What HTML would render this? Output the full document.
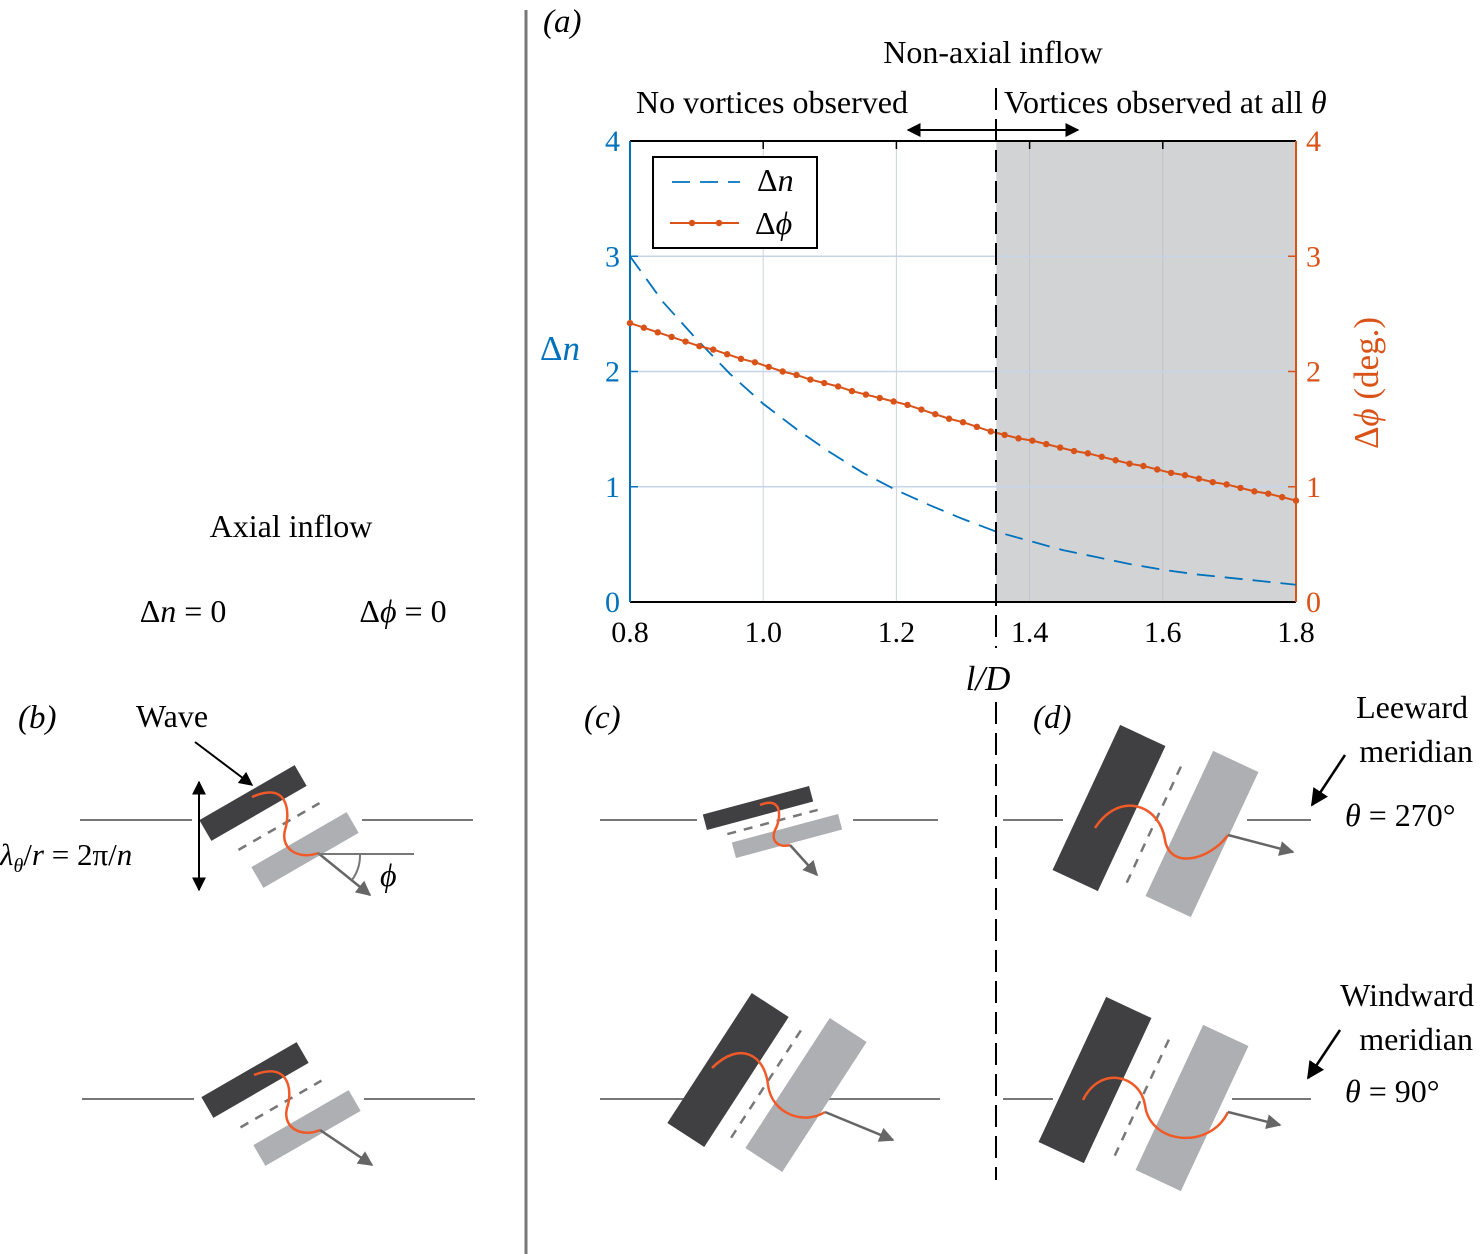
<!DOCTYPE html>
<html><head><meta charset="utf-8"><style>
body{margin:0;background:#fff;}
svg{display:block;font-family:"Liberation Serif",serif;}
</style></head><body>
<svg id="fig" width="1483" height="1254" viewBox="0 0 1483 1254" xmlns="http://www.w3.org/2000/svg">
<defs>
<marker id="ah" viewBox="0 0 10 10" refX="9" refY="5" markerWidth="7" markerHeight="7" orient="auto-start-reverse"><path d="M0,0 L10,5 L0,10 z" fill="#000"/></marker>
<marker id="ahg" viewBox="0 0 10 10" refX="9" refY="5" markerWidth="6" markerHeight="6" orient="auto"><path d="M0,0 L10,5 L0,10 z" fill="#666"/></marker>
</defs>
<line x1="526" y1="10" x2="526" y2="1254" stroke="#777" stroke-width="3"/>
<g id="chart"></g>
<g id="diagrams"></g>
<line x1="996" y1="88" x2="996" y2="648" stroke="#000" stroke-width="2" stroke-dasharray="22,9"/>
<line x1="996" y1="702" x2="996" y2="1180" stroke="#000" stroke-width="2" stroke-dasharray="22,9"/>
<text x="543" y="32" font-size="33" font-style="italic">(a)</text>
<text x="993" y="63" font-size="32" text-anchor="middle">Non-axial inflow</text>
<text x="772" y="113" font-size="32" text-anchor="middle">No vortices observed</text>
<text x="1004" y="113" font-size="32">Vortices observed at all <tspan font-style="italic">θ</tspan></text>
<line x1="908" y1="130" x2="1078" y2="130" stroke="#000" stroke-width="2" marker-start="url(#ah)" marker-end="url(#ah)"/>
<text x="291" y="537" font-size="32" text-anchor="middle">Axial inflow</text>
<text x="183" y="622" font-size="32" text-anchor="middle">Δ<tspan font-style="italic">n</tspan> = 0</text>
<text x="403" y="622" font-size="32" text-anchor="middle">Δ<tspan font-style="italic">ϕ</tspan> = 0</text>
<text x="18" y="728" font-size="33" font-style="italic">(b)</text>
<text x="584" y="728" font-size="33" font-style="italic">(c)</text>
<text x="1033" y="728" font-size="33" font-style="italic">(d)</text>
<text x="172" y="727" font-size="32" text-anchor="middle">Wave</text>
<line x1="195" y1="742" x2="252" y2="785" stroke="#000" stroke-width="2" marker-end="url(#ah)"/>
<line x1="199" y1="782" x2="199" y2="890" stroke="#000" stroke-width="2" marker-start="url(#ah)" marker-end="url(#ah)"/>
<text x="0" y="865" font-size="31"><tspan font-style="italic">λ</tspan><tspan font-style="italic" font-size="20" dy="7">θ</tspan><tspan dy="-7">/</tspan><tspan font-style="italic">r</tspan> = 2π/<tspan font-style="italic">n</tspan></text>
<line x1="318" y1="854" x2="414" y2="854" stroke="#777" stroke-width="2"/>
<path d="M360,854 A42,42 0 0 1 352,880" fill="none" stroke="#777" stroke-width="2"/>
<text x="380" y="886" font-size="32" font-style="italic">ϕ</text>
<text x="1468" y="718" font-size="32" text-anchor="end">Leeward</text>
<text x="1473" y="762" font-size="32" text-anchor="end">meridian</text>
<line x1="1345" y1="755" x2="1312" y2="805" stroke="#000" stroke-width="2.5" marker-end="url(#ah)"/>
<text x="1345" y="826" font-size="32"><tspan font-style="italic">θ</tspan> = 270°</text>
<text x="1474" y="1006" font-size="32" text-anchor="end">Windward</text>
<text x="1473" y="1050" font-size="32" text-anchor="end">meridian</text>
<line x1="1340" y1="1030" x2="1308" y2="1078" stroke="#000" stroke-width="2.5" marker-end="url(#ah)"/>
<text x="1345" y="1102" font-size="32"><tspan font-style="italic">θ</tspan> = 90°</text>
</svg>
<script>
const ns="http://www.w3.org/2000/svg";
const dnX=[0.8,0.85,0.9,0.95,1.0,1.05,1.1,1.15,1.2,1.25,1.3,1.35,1.4,1.45,1.5,1.55,1.6,1.65,1.7,1.75,1.8];
const dnVals=[3.0,2.6,2.28,1.98,1.72,1.5,1.3,1.12,0.97,0.84,0.72,0.61,0.53,0.45,0.39,0.33,0.28,0.24,0.21,0.18,0.15];
const dphiVals=[2.42,2.38,2.34,2.30,2.26,2.22,2.19,2.15,2.11,2.08,2.04,2.00,1.97,1.93,1.90,1.87,1.83,1.80,1.77,1.74,1.71,1.67,1.63,1.59,1.56,1.52,1.48,1.45,1.42,1.40,1.37,1.34,1.31,1.29,1.26,1.23,1.20,1.18,1.15,1.12,1.10,1.07,1.04,1.02,0.99,0.96,0.94,0.91,0.88];
const xTicks=[0.8,1.0,1.2,1.4,1.6,1.8];
const xTickLabels=["0.8","1.0","1.2","1.4","1.6","1.8"];
const yTicks=[0,1,2,3,4];
const shadeStart=1.35;
const X0=630,X1=1296,Y0=602,Y1=141;
const xs=v=>X0+(v-0.8)/(1.0)*(X1-X0);
const ys=v=>Y0-v/4*(Y0-Y1);
const g=document.getElementById('chart');
function el(t,a,p){const e=document.createElementNS(ns,t);for(const k in a)e.setAttribute(k,a[k]);(p||g).appendChild(e);return e;}
let r=el('rect',{x:xs(shadeStart),y:Y1,width:X1-xs(shadeStart),height:Y0-Y1,fill:'#d2d3d5'});


xTicks.forEach((t,i)=>{
 const l=el('line',{x1:xs(t),y1:Y1,x2:xs(t),y2:Y0,stroke:'#b8bfcc','stroke-width':1,opacity:0.7});
 
 
 const tk=el('line',{x1:xs(t),y1:Y1,x2:xs(t),y2:Y1+8,stroke:'#000','stroke-width':1.5});
 
 
 const tx=el('text',{x:xs(t),y:642,'font-size':30,'text-anchor':'middle'});
 tx.textContent=xTickLabels[i];
 
 
});
yTicks.forEach(t=>{
 if(t>0&&t<4){const l=el('line',{x1:X0,y1:ys(t),x2:X1,y2:ys(t),stroke:'#c6d4ea','stroke-width':1.5});
 
 }
 const a=el('text',{x:X0-10,y:ys(t)+10,'font-size':30,'text-anchor':'end',fill:'#0072bd'});a.textContent=t;
 
 
 const b=el('text',{x:X1+10,y:ys(t)+10,'font-size':30,fill:'#d95319'});b.textContent=t;
 
 
 el('line',{x1:X0,y1:ys(t),x2:X0+8,y2:ys(t),stroke:'#0072bd','stroke-width':1.5});
 el('line',{x1:X1,y1:ys(t),x2:X1-8,y2:ys(t),stroke:'#d95319','stroke-width':1.5});
});
let a1=el('line',{x1:X0,y1:Y1,x2:X1,y2:Y1,stroke:'#000','stroke-width':2});

let a2=el('line',{x1:X0,y1:Y0,x2:X1,y2:Y0,stroke:'#000','stroke-width':2});

let a3=el('line',{x1:X0,y1:Y1,x2:X0,y2:Y0,stroke:'#0072bd','stroke-width':2});

let a4=el('line',{x1:X1,y1:Y1,x2:X1,y2:Y0,stroke:'#d95319','stroke-width':2});

let dn=el('polyline',{points:dnX.map((x,i)=>xs(x)+','+ys(dnVals[i])).join(' '),fill:'none',stroke:'#0072bd','stroke-width':1.8,'stroke-dasharray':'18,10'});

const dphiX=dphiVals.map((v,i)=>0.8+i*(1.0/(dphiVals.length-1)));
let dp=el('polyline',{points:dphiX.map((x,i)=>xs(x)+','+ys(dphiVals[i])).join(' '),fill:'none',stroke:'#d95319','stroke-width':2});

dphiX.forEach((x,i)=>{const c=el('circle',{cx:xs(x),cy:ys(dphiVals[i]),r:3.2,fill:'#d95319'});
 
 });
let lg=el('rect',{x:653,y:157,width:164,height:91,fill:'#fff',stroke:'#000','stroke-width':2});

el('line',{x1:672,y1:182,x2:740,y2:182,stroke:'#0072bd','stroke-width':1.8,'stroke-dasharray':'18,10'});
el('line',{x1:670,y1:223,x2:739,y2:223,stroke:'#d95319','stroke-width':2});
el('circle',{cx:692,cy:223,r:3.2,fill:'#d95319'});el('circle',{cx:719,cy:223,r:3.2,fill:'#d95319'});
let t1=el('text',{x:757,y:191,'font-size':32});t1.innerHTML='Δ<tspan font-style="italic">n</tspan>';

let t2=el('text',{x:755,y:234,'font-size':32});t2.innerHTML='Δ<tspan font-style="italic">ϕ</tspan>';

let yl=el('text',{x:540,y:360,'font-size':35,fill:'#0072bd'});yl.innerHTML='Δ<tspan font-style="italic">n</tspan>';

let yr=el('text',{x:0,y:0,'font-size':35,fill:'#d95319','text-anchor':'middle',transform:'translate(1378,383) rotate(-90)'});yr.innerHTML='Δ<tspan font-style="italic">ϕ</tspan> (deg.)';

let xl=el('text',{x:988,y:690,'font-size':35,'font-style':'italic','text-anchor':'middle'});xl.textContent='l/D';


const dg=document.getElementById('diagrams');
function diagram(name,o){
 const gg=el('g',{},dg);
 
 
 const add=(t,a)=>el(t,a,gg);
 add('line',{x1:o.l[0],y1:o.ly,x2:o.l[1],y2:o.ly,stroke:'#777','stroke-width':2});
 add('line',{x1:o.l[2],y1:o.ly,x2:o.l[3],y2:o.ly,stroke:'#777','stroke-width':2});
 const mk=(c,f)=>add('rect',{x:c[0]-o.L/2,y:c[1]-o.T/2,width:o.L,height:o.T,fill:f,transform:`rotate(${o.a} ${c[0]} ${c[1]})`});
 mk(o.d,'#404042');mk(o.g,'#aeafb2');
 const m=[(o.d[0]+o.g[0])/2,(o.d[1]+o.g[1])/2];
 add('line',{x1:m[0]-o.L/2*0.85,y1:m[1],x2:m[0]+o.L/2*0.85,y2:m[1],stroke:'#777','stroke-width':2.5,'stroke-dasharray':'9,8',transform:`rotate(${o.a} ${m[0]} ${m[1]})`});
 add('path',{d:o.s,fill:'none',stroke:'#f05a28','stroke-width':2.5});
 add('line',{x1:o.ar[0],y1:o.ar[1],x2:o.ar[2],y2:o.ar[3],stroke:'#666','stroke-width':2.5,'marker-end':'url(#ahg)'});
}
diagram('diagram-b-top',{l:[80,192,362,473],ly:820,d:[253,803],g:[305,850],a:-30,L:110,T:24,s:'M252,797 C290,780 290,815 285,830 C280,850 300,860 318,853',ar:[318,853,370,895]});
diagram('diagram-b-bottom',{l:[82,194,364,475],ly:1099,d:[255,1080],g:[307,1128],a:-30,L:110,T:24,s:'M254,1075 C292,1060 292,1095 287,1108 C282,1128 302,1138 320,1130',ar:[320,1130,372,1165]});
diagram('diagram-c-top',{l:[600,697,853,938],ly:820,d:[758,808],g:[787,836],a:-15,L:110,T:16,s:'M760,805 C785,795 780,822 775,830 C770,842 780,848 790,845',ar:[790,845,817,875]});
diagram('diagram-c-bottom',{l:[600,710,822,940],ly:1099,d:[728,1070],g:[806,1095],a:-57,L:155,T:44,s:'M712,1068 C740,1040 765,1055 768,1085 C772,1115 805,1125 825,1112',ar:[825,1112,893,1140]});
diagram('diagram-d-top',{l:[1003,1063,1247,1311],ly:820,d:[1109,808],g:[1202,834],a:-65,L:160,T:50,s:'M1095,828 C1120,790 1160,805 1165,840 C1170,870 1210,860 1228,835',ar:[1228,835,1293,852]});
diagram('diagram-d-bottom',{l:[1003,1053,1232,1311],ly:1099,d:[1095,1080],g:[1192,1108],a:-65,L:160,T:50,s:'M1083,1100 C1100,1065 1140,1075 1145,1105 C1150,1145 1210,1150 1228,1112',ar:[1228,1112,1280,1125]});
</script>
</body></html>
